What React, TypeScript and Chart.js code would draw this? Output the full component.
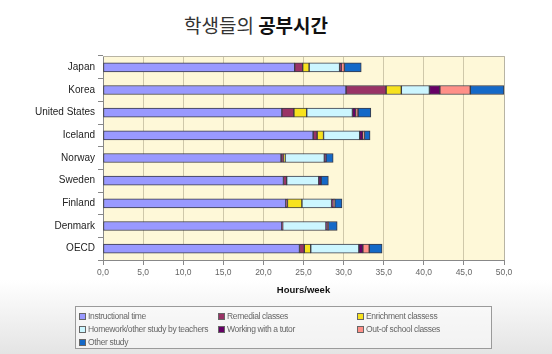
import React, { useEffect, useRef } from "react";
import { Chart, registerables } from "chart.js";

Chart.register(...registerables);

const categories = ["Japan", "Korea", "United States", "Iceland", "Norway", "Sweden", "Finland", "Denmark", "OECD"];
const instructional = [23.9, 30.3, 22.3, 26.2, 22.2, 22.5, 22.8, 22.3, 24.5];
const remedial = [1.0, 5.0, 1.5, 0.5, 0.3, 0.4, 0.2, 0.1, 0.6];
const enrichment = [0.8, 1.9, 1.6, 0.8, 0.2, 0.0, 1.8, 0.0, 0.8];
const homework = [3.8, 3.5, 5.7, 4.5, 4.9, 4.0, 3.7, 5.4, 6.0];
const tutor = [0.2, 1.3, 0.4, 0.4, 0.2, 0.3, 0.2, 0.2, 0.5];
const outOfSchool = [0.4, 3.8, 0.3, 0.2, 0.0, 0.0, 0.2, 0.1, 0.8];
const otherStudy = [2.1, 4.2, 1.6, 0.7, 0.9, 0.9, 0.9, 1.1, 1.6];

const seriesNames = [
  "Instructional time",
  "Remedial classes",
  "Enrichment classess",
  "Homework/other study by teachers",
  "Working with a tutor",
  "Out-of school classes",
  "Other study",
];
const seriesColors = ["#9999FF", "#993366", "#F7E21E", "#CCF6FF", "#660066", "#FF9088", "#1469C8"];
const seriesData = [instructional, remedial, enrichment, homework, tutor, outOfSchool, otherStudy];
const xTicks = [0, 5, 10, 15, 20, 25, 30, 35, 40, 45, 50];

const plotBg = {
  id: "plotBg",
  beforeDraw(chart: any) {
    const { ctx, chartArea } = chart;
    ctx.save();
    ctx.fillStyle = "rgb(254,248,216)";
    ctx.fillRect(chartArea.left, chartArea.top, chartArea.right - chartArea.left, chartArea.bottom - chartArea.top);
    ctx.restore();
  },
  afterDraw(chart: any) {
    const { ctx, chartArea } = chart;
    ctx.save();
    ctx.strokeStyle = "#b8b4a4";
    ctx.lineWidth = 1;
    ctx.beginPath();
    ctx.moveTo(chartArea.left, chartArea.top + 0.5);
    ctx.lineTo(chartArea.right + 0.5, chartArea.top + 0.5);
    ctx.lineTo(chartArea.right + 0.5, chartArea.bottom);
    ctx.stroke();
    ctx.restore();
  },
};

export default function App() {
  const ref = useRef<HTMLCanvasElement | null>(null);

  useEffect(() => {
    if (!ref.current) return;
    const chart = new Chart(ref.current, {
      type: "bar",
      data: {
        labels: categories,
        datasets: seriesData.map((d, i) => ({
          label: seriesNames[i],
          data: d,
          backgroundColor: seriesColors[i],
          borderColor: "#3a3a44",
          borderWidth: 1,
          borderSkipped: false,
          barThickness: 9,
        })),
      },
      options: {
        indexAxis: "y",
        responsive: false,
        animation: false,
        layout: { padding: { left: 0, top: 56, right: 48, bottom: 54 } },
        plugins: { legend: { display: false }, tooltip: { enabled: false }, title: { display: false } },
        scales: {
          x: {
            stacked: true,
            min: 0,
            max: 50,
            afterFit: (s: any) => {
              s.height = 40;
            },
            afterBuildTicks: (s: any) => {
              s.ticks = xTicks.map((v) => ({ value: v }));
            },
            ticks: {
              color: "#666",
              font: { family: "Arial, 'Liberation Sans'", size: 8.5 },
              padding: 3,
              maxRotation: 0,
              callback: (v: any) => Number(v).toFixed(1).replace(".", ","),
            },
            grid: { color: "#cfc8aa", tickColor: "#888", tickLength: 5 },
            border: { color: "#888" },
            title: {
              display: true,
              text: "Hours/week",
              color: "#111",
              font: { family: "Arial, 'Liberation Sans'", size: 9.5, weight: "bold" },
              padding: { top: 4, bottom: 4 },
            },
          },
          y: {
            stacked: true,
            afterFit: (s: any) => {
              s.width = 103;
            },
            ticks: {
              color: "#222",
              font: { family: "Arial, 'Liberation Sans'", size: 10 },
              padding: 3,
            },
            grid: { drawOnChartArea: false, offset: true, tickLength: 5, color: "#888" },
            border: { color: "#888" },
          },
        },
      },
      plugins: [plotBg],
    });
    return () => chart.destroy();
  }, []);

  const legendPos = [
    [0, 0], [1, 0], [2, 0],
    [0, 1], [1, 1], [2, 1],
    [0, 2],
  ];
  const colX = [3, 142, 281];

  return (
    <div
      style={{
        position: "absolute",
        left: 0,
        top: 0,
        width: 552,
        height: 354,
        overflow: "hidden",
        background: "linear-gradient(to bottom, #ffffff 0px, #ffffff 280px, #e4e4e4 354px)",
      }}
    >
      <div
        style={{
          position: "absolute",
          left: 0,
          top: 12,
          width: 512,
          textAlign: "center",
          fontFamily: "'Noto Sans CJK KR', 'Noto Sans', sans-serif",
          fontSize: 19,
          lineHeight: "26px",
          color: "#333",
        }}
      >
        <span>학생들의 </span>
        <span style={{ fontWeight: 700, color: "#111" }}>공부시간</span>
      </div>
      <canvas ref={ref} width={552} height={354} style={{ position: "absolute", left: 0, top: 0 }} />
      <div
        style={{
          position: "absolute",
          left: 75,
          top: 306,
          width: 417,
          height: 43,
          border: "1px solid #9a9a9a",
          boxSizing: "border-box",
          background: "rgba(250,250,250,0.6)",
        }}
      >
        {seriesNames.map((n, i) => (
          <div
            key={n}
            style={{
              position: "absolute",
              left: colX[legendPos[i][0]],
              top: 3 + legendPos[i][1] * 13,
              height: 12,
              display: "flex",
              alignItems: "center",
              whiteSpace: "nowrap",
              fontFamily: "Arial, 'Liberation Sans', sans-serif",
              fontSize: 8.5,
              letterSpacing: -0.35,
              color: "#666",
            }}
          >
            <span
              style={{
                display: "inline-block",
                width: 5,
                height: 5,
                background: seriesColors[i],
                border: "1px solid #666",
                marginRight: 2,
              }}
            />
            {n}
          </div>
        ))}
      </div>
    </div>
  );
}
